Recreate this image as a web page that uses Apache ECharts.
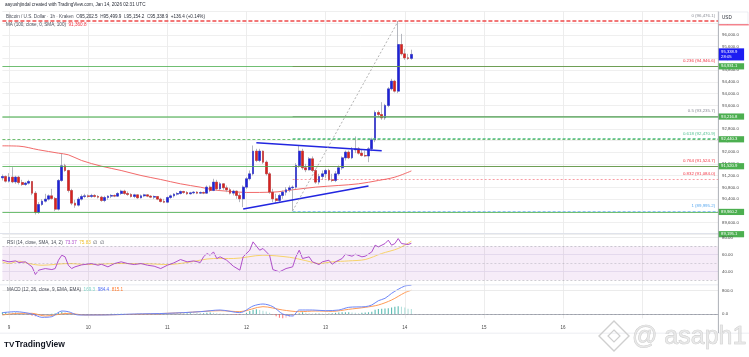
<!DOCTYPE html>
<html><head><meta charset="utf-8">
<script src="https://cdn.jsdelivr.net/npm/echarts@6/dist/echarts.min.js"></script>
<style>html,body{margin:0;padding:0;background:#fff}#c{width:749px;height:357px}</style>
</head><body><div id="c"></div>
<script>
// ---------- data ----------
const dayLabels = ['9','10','11','12','13','14','15','16'];
const opens = [91125,91170,91011,91148,90988,91148,90966,90897,90943,91000,
 90601,89941,90214,90328,90397,90510,90420,90055,91034,91534,
 91375,90692,90260,90192,90397,90488,90510,90488,90522,90488,
 90465,90351,90453,90499,90522,90499,90590,90670,90590,90556,
 90488,90544,90442,90510,90544,90499,90465,90488,90397,90317,
 90294,90453,90510,90567,90590,90658,90624,90579,90613,90636,
 90601,90624,90601,90807,90693,90978,90750,90921,90784,90716,
 90602,90670,90523,90409,90807,91092,91262,92036,91717,92036,
 91660,91262,90636,90409,90352,90523,90636,90716,90784,90807,
 91547,92036,91467,91399,91774,91376,90978,91171,91262,91376,
 91057,91035,91262,91467,91808,92002,91808,92081,92115,91967,
 91888,91870,92115,92423,93355,93287,93173,93595,94163,94425,
 94084,95676,95358,95221,95202.5];
const closes = [91170,91011,91148,90988,91148,90966,90897,90943,91000,90601,
 89941,90214,90328,90397,90510,90420,90055,91034,91534,91375,
 90692,90260,90192,90397,90488,90510,90488,90522,90488,90465,
 90351,90453,90499,90522,90499,90590,90670,90590,90556,90488,
 90544,90442,90510,90544,90499,90465,90488,90397,90317,90294,
 90453,90510,90567,90590,90658,90624,90579,90613,90636,90601,
 90624,90601,90807,90693,90978,90750,90921,90784,90716,90602,
 90670,90523,90409,90807,91092,91262,92036,91717,92036,91660,
 91262,90636,90409,90352,90523,90636,90716,90784,90807,91547,
 92036,91467,91399,91774,91376,90978,91171,91262,91376,91057,
 91035,91262,91467,91808,92002,91808,92081,92115,91967,91888,
 91870,92115,92423,93355,93287,93173,93595,94163,94425,94084,
 95676,95358,95221,95202.5,95338.9];
const highs = [91239,91205,91284,91489,91193,91193,91057,90988,91057,91011,
 90670,90294,90397,90579,90556,90749,90470,91079,91944,91603,
 91398,90749,90374,90465,90556,90579,90556,90579,90567,90533,
 90510,90510,90533,90567,90556,90636,90715,90715,90658,90601,
 90579,90556,90556,90579,90567,90533,90522,90499,90442,90408,
 90488,90556,90601,90636,90692,90681,90670,90647,90670,90670,
 90658,90658,90864,90864,91092,91057,90978,90943,90864,90784,
 90716,90693,90602,90864,91148,91376,92229,92115,92115,92058,
 91717,91319,90750,90580,90580,90693,90807,90864,90864,91626,
 92229,92115,91603,91831,91854,91433,91262,91376,91433,91433,
 91262,91353,91547,91854,92058,92058,92172,92536,92172,92081,
 92058,92172,92491,93424,93424,93708,93651,94220,94505,94470,
 96476.1,96040,95528,95358,95499.9];
const lows = [91034,90966,90966,90943,90920,90897,90852,90852,90897,90533,
 89873,89896,90169,90283,90351,90380,89987,90010,90988,91330,
 90624,90192,90101,90146,90351,90431,90442,90442,90453,90419,
 90306,90294,90374,90431,90465,90476,90544,90544,90510,90453,
 90431,90408,90419,90465,90465,90431,90397,90362,90283,90260,
 90260,90408,90453,90522,90556,90579,90544,90556,90567,90567,
 90579,90567,90580,90636,90670,90693,90693,90716,90636,90557,
 90523,90409,90295,90124,90750,91035,91205,91660,91660,91603,
 91205,90580,90295,90261,90295,90409,90523,90636,89995.2,90750,
 91467,91399,91319,91376,91319,90921,90898,91057,91126,91012,
 90978,90978,91205,91399,91717,91763,91763,91967,91922,91854,
 91831,91660,92036,92343,93196,93105,93105,93537,94106,94038,
 94015,95301,95153,95153,95154.2];
const maPts = [[0,92217],[5,92206],[11,92081],[17,91967],[20,91910],[24,91717],[30,91523],[36,91375],[42,91205],[48,91068],[54,90920],[60,90806],[64,90715],[68,90670],[74,90625],[82,90636],[88,90716],[95,90807],[102,90864],[108,90921],[114,91035],[119,91148],[124,91360.8]];
const rsiPts = [[0,53.5],[2,51.6],[4,52.7],[5,50.8],[7,51.6],[9,45.7],[10,36.7],[11,41.8],[13,43.7],[15,42.5],[16,43.7],[17,53.5],[18,59.4],[19,57.5],[20,47.6],[21,43.7],[22,45.7],[24,48],[27,49.6],[29,47.6],[30,48.8],[32,45.7],[34,49.6],[36,51.6],[38,49.6],[40,48.4],[42,49.6],[44,47.6],[46,46.5],[48,43.7],[50,47.6],[52,50.4],[54,54.3],[56,51.6],[58,52.7],[60,50.8],[61,57.5],[62,61.4],[63,59.4],[64,63.3],[65,55.5],[66,57.5],[68,53.5],[70,46.5],[72,41.8],[73,57.5],[75,65.3],[76,75.1],[78,65.3],[79,67.3],[81,59.4],[82,42.5],[84,39.8],[86,43.7],[88,45.7],[89,57.5],[90,65.3],[91,55.5],[93,57.5],[94,51.6],[96,48.4],[97,51.6],[99,53.5],[100,48.8],[101,51.6],[103,55.5],[104,60.6],[106,58.2],[107,60.6],[109,57.5],[110,58.2],[112,63.3],[113,71.2],[114,69.2],[116,73.1],[117,77.1],[118,71.2],[119,73.1],[120,79],[121,73.1],[123,72],[124,73.37]];
const rsiMaPts = [[0,51.6],[2,49.6],[5,52.4],[8,49.6],[12,47.6],[20,49.6],[26,48.4],[35,49.6],[45,49.2],[50,48.4],[56,50.8],[64,55.5],[70,55.5],[79,59.4],[87,57],[92,53],[96,49.6],[100,51.6],[105,52.7],[110,54.3],[115,61.4],[120,67.3],[124,75.83]];
const macdPts = [[0,46],[4,80],[9,0],[12,-114],[15,-92],[18,103],[20,80],[23,-34],[30,-34],[40,0],[50,23],[60,80],[66,137],[72,46],[76,274],[79,343],[82,252],[85,0],[88,-69],[90,137],[94,137],[98,114],[102,137],[105,229],[110,252],[112,309],[114,457],[116,537],[118,709],[120,846],[122,960],[124,984.4]];
const signalPts = [[0,-34],[5,23],[9,23],[13,-69],[20,23],[25,-34],[40,-11],[55,46],[66,114],[72,80],[79,252],[85,137],[90,80],[95,103],[100,91],[105,160],[110,229],[114,309],[118,480],[122,732],[124,815.1]];
const histVals = [60,70,60,50,50,40,
 20,0,-20,-60,-80,-60,-40,
 -20,-10,10,30,60,
 80,60,40,10,
 -20,-20,-10,-10,0,0,-5,-10,-10,
 -5,0,5,5,10,10,5,0,-5,0,5,5,0,-5,-10,-10,-15,-15,-10,0,
 10,15,20,20,20,25,25,20,20,20,
 30,40,50,40,30,20,
 10,0,-10,-20,-30,-30,
 0,40,100,150,160,140,110,90,
 40,-20,-80,-130,-150,-130,-100,-70,
 -20,30,60,40,30,20,20,
 20,15,10,20,30,40,50,60,60,
 60,50,40,30,40,50,60,80,
 150,170,180,190,200,220,250,270,250,220,180,169.3];
const greenLevels = [94931.1, 93216.8, 92440.3, 91520.9, 89960.2, 89195.1];
const fibRatios = ['0','0.236','0.5','0.618','0.764','0.832','1'];
const fibPrices = [96476.1, 94946.6, 93235.7, 92470.9, 91524.7, 91084.0, 89995.2];
const triUpper = [[77, 92324], [115, 92051]];
const triLower = [[73, 90061], [111, 90846]];
const fibLow = [88, 89995.2], fibHigh = [120, 96476.1];
const maLast = 91360.8, rsiLast = 73.37, rsiMaLast = 75.83;
const macdLast = 984.4, signalLast = 815.1, histLast = 169.3;
const countdown = '28:05';

// ---------- build ----------
const N = 218, FIRST_DAY = 2;
const P_MIN = 89200, P_MAX = 96800;
const F = 'Liberation Sans, Arial, sans-serif';
const CLEAR = 'rgba(0,0,0,0)';
const fmt = v => v.toLocaleString('en-US', {minimumFractionDigits:1, maximumFractionDigits:1});
const cats = Array.from({length:N}, (_, i) => String(i));
const sparse = pts => { const a = new Array(N).fill(null); pts.forEach(p => a[p[0]] = p[1]); return a; };
const isDay = i => i >= FIRST_DAY && (i - FIRST_DAY) % 24 === 0;

const UP = '#1f22d8', DN = '#d8221e', WICK = '#a2a6ae';
const wickData = opens.map((o, i) => [o, closes[i], lows[i], highs[i]]);
const bodyData = opens.map((o, i) => [o, closes[i], Math.min(o, closes[i]), Math.max(o, closes[i])]);
const histData = histVals.map((v, i) => {
  const p = i > 0 ? histVals[i-1] : 0;
  const c = v >= 0 ? (v >= p ? 'rgba(38,166,154,0.75)' : 'rgba(38,166,154,0.35)')
                   : (v <= p ? 'rgba(255,82,82,0.75)' : 'rgba(255,82,82,0.35)');
  return {value: v, itemStyle: {color: c}};
});

const fibColors = ['#8a8d96','#f23645','#8a8d96','#4fbf8f','#f23645','#f23645','#5aa9ef'];
const fibLine = [
  {color:'#ef4b4b', type:[4,2], width:1.5},
  {color:'#f23645', type:'solid', width:0.8},
  {color:'#9e9e9e', type:'solid', width:0.8},
  {color:'#4fbf8f', type:[3,2], width:0.8},
  {color:'#f23645', type:'solid', width:0.8},
  {color:'rgba(242,54,69,0.55)', type:[2,2], width:0.9},
  {color:'#7fbdf2', type:[3,2], width:0.9}
];

const priceMarks = [];
fibPrices.forEach((p, k) => {
  const lbl = {show:true, position:'insideEndTop', distance:3, formatter: fibRatios[k] + ' (' + fmt(p) + ')',
               color: fibColors[k], fontSize:4.4, fontFamily:F};
  priceMarks.push([{coord:[k === 0 ? 0 : fibLow[0], p], lineStyle: fibLine[k], label: lbl}, {coord:[N-1, p]}]);
});
greenLevels.forEach((p, k) => {
  const inside = p >= P_MIN;
  priceMarks.push({yAxis: Math.max(p, P_MIN),
    lineStyle:{color: !inside ? CLEAR : (k===1 ? 'rgba(76,175,80,0.55)' : 'rgba(76,175,80,0.8)'),
               width: k===1 ? 2 : 1.1, type: k===2 ? [3,2] : 'solid'},
    label:{show:true, position:'end', distance:0, formatter: fmt(p), backgroundColor:'#4caf50', color:'#fff',
           fontSize:4.2, fontFamily:F, padding:[1,3,0.6,3], width:20, lineHeight:4.6}});
});
priceMarks.push([{coord: triUpper[0], lineStyle:{color:'#2226e0', width:1.6, type:'solid'}, label:{show:false}}, {coord: triUpper[1]}]);
priceMarks.push([{coord: triLower[0], lineStyle:{color:'#2226e0', width:1.6, type:'solid'}, label:{show:false}}, {coord: triLower[1]}]);
priceMarks.push([{coord: fibLow, lineStyle:{color:'#a0a0a0', width:0.8, type:[2,2]}, label:{show:false}}, {coord: fibHigh}]);
priceMarks.push({yAxis: closes[closes.length-1], lineStyle:{color:CLEAR, width:1},
  label:{show:true, position:'end', distance:0, formatter: fmt(closes[closes.length-1]) + '\n' + countdown,
         backgroundColor:'#1c1cf2', color:'#fff', fontSize:4.2, fontFamily:F, padding:[1.5,3,1,3], width:20, lineHeight:4.8}});

const hLine = (v, color, type, label) => ({yAxis:v, lineStyle:{color, type, width:0.8},
  label: label ? {show:true, position:'end', distance:4, formatter:label, color:'#4a4a4a', fontSize:4.3, fontFamily:F} : {show:false}});

const xAxes = [0,1,2].map(g => ({
  type:'category', gridIndex:g, data:cats, boundaryGap:false,
  axisTick:{show:false},
  axisLine:{show:g===2, lineStyle:{color:'#b2b5be', width:1}},
  axisLabel:{show:g===2, interval:(i)=>isDay(i), formatter:(v,i)=> isDay(i) ? (dayLabels[(i-FIRST_DAY)/24] || '') : '',
             fontSize:4.5, color:'#4a4a4a', margin:6.5, fontFamily:F},
  splitLine:{show:true, interval:(i)=>isDay(i), lineStyle:{color:'#ebebeb', width:0.9}}
}));

const hiddenY = {show:false};
const option = {
  animation:false, backgroundColor:'#fff',
  textStyle:{fontFamily:F},
  grid:[
    {left:2.4, right:30.9, top:11.6, height:222.6},
    {left:2.4, right:30.9, top:233.45, height:51},
    {left:2.4, right:30.9, top:284.87, height:33.5}
  ],
  xAxis: xAxes,
  yAxis:[
    {type:'value', gridIndex:0, position:'right', min:P_MIN, max:P_MAX, interval:400,
     axisLine:{show:false}, axisTick:{show:false},
     axisLabel:{fontSize:4.3, color:'#4a4a4a', margin:4, showMinLabel:false, showMaxLabel:false, formatter:v=>fmt(v), fontFamily:F},
     splitLine:{lineStyle:{color:'#ededed', width:0.9}}},
    {type:'value', gridIndex:1, position:'right', min:25, max:85, axisLine:hiddenY, axisTick:hiddenY, axisLabel:hiddenY, splitLine:hiddenY},
    {type:'value', gridIndex:2, position:'right', min:-150, max:1000, axisLine:hiddenY, axisTick:hiddenY, axisLabel:hiddenY, splitLine:hiddenY}
  ],
  series:[
    {type:'candlestick', xAxisIndex:0, yAxisIndex:0, data:wickData, barWidth:2.3, silent:true, z:3,
     itemStyle:{color:WICK, color0:WICK, borderColor:WICK, borderColor0:WICK, borderWidth:0.8}},
    {type:'candlestick', xAxisIndex:0, yAxisIndex:0, data:bodyData, barWidth:2.3, silent:true, z:4,
     itemStyle:{color:UP, color0:DN, borderColor:UP, borderColor0:DN, borderWidth:0.4}},
    {type:'line', xAxisIndex:0, yAxisIndex:0, data:sparse(maPts), connectNulls:true, smooth:0.35, symbol:'none',
     lineStyle:{color:'#f26a6a', width:1}, z:2, clip:false,
     markLine:{silent:true, symbol:['none','none'], animation:false, data:priceMarks}},
    {type:'line', xAxisIndex:1, yAxisIndex:1, data:sparse(rsiMaPts), connectNulls:true, smooth:0.3, symbol:'none',
     lineStyle:{color:'#f7d36a', width:1}, z:3, clip:false,
     markArea:{silent:true, itemStyle:{color:'rgba(156,39,176,0.09)'}, data:[[{yAxis:30},{yAxis:70}]]},
     markLine:{silent:true, symbol:['none','none'], animation:false, data:[
       hLine(80,'#e6e6e6','solid','80.00'), hLine(60,'#e0d4ea','solid','60.00'), hLine(40,'#e0d4ea','solid','40.00'),
       hLine(70,'rgba(120,123,134,0.45)',[2,2]), hLine(50,'rgba(120,123,134,0.35)',[2,2]), hLine(30,'rgba(120,123,134,0.45)',[2,2])]}},
    {type:'line', xAxisIndex:1, yAxisIndex:1, data:sparse(rsiPts), connectNulls:true, symbol:'none',
     lineStyle:{color:'#b04fcb', width:1}, z:4},
    {type:'bar', xAxisIndex:2, yAxisIndex:2, data:histData, barWidth:1.1, z:2,
     markLine:{silent:true, symbol:['none','none'], animation:false, data:[
       hLine(800,'#e6e6e6','solid','800.0'), hLine(0,'rgba(120,123,134,0.45)',[2,2],'0.0')]}},
    {type:'line', xAxisIndex:2, yAxisIndex:2, data:sparse(signalPts), connectNulls:true, smooth:0.3, symbol:'none',
     lineStyle:{color:'#ff9a55', width:1}, z:3},
    {type:'line', xAxisIndex:2, yAxisIndex:2, data:sparse(macdPts), connectNulls:true, smooth:0.3, symbol:'none',
     lineStyle:{color:'#6d86f7', width:1}, z:4}
  ],
  graphic:[
    {type:'text', x:5, y:5, z:10, style:{text:'aayushjindal created with TradingView.com, Jan 14, 2026 02:31 UTC',
      fontSize:4.6, fontFamily:F, fill:'#2a2e39', verticalAlign:'middle'}},
    {type:'text', x:6, y:16.5, z:10, style:{
      text:'{g|Bitcoin / U.S. Dollar · 1h · Kraken}  {g|O}{v|' + fmt(opens[124]) + '}  {g|H}{v|' + fmt(highs[124]) + '}  {g|L}{v|' + fmt(lows[124]) + '}  {g|C}{v|' + fmt(closes[124]) + '}  {v|+136.4 (+0.14%)}',
      fontSize:4.6, fontFamily:F, verticalAlign:'middle',
      rich:{g:{fill:'#4a4e59', color:'#4a4e59', fontSize:4.6, fontFamily:F}, v:{fill:'#2a2e39', color:'#2a2e39', fontSize:4.6, fontFamily:F}}}},
    {type:'text', x:6, y:24.5, z:10, style:{
      text:'{g|MA (100, close, 0, SMA, 100)}  {r|' + fmt(maLast) + '}',
      fontSize:4.6, fontFamily:F, verticalAlign:'middle',
      rich:{g:{fill:'#4a4e59', color:'#4a4e59', fontSize:4.6, fontFamily:F}, r:{fill:'#f23645', color:'#f23645', fontSize:4.6, fontFamily:F}}}},
    {type:'text', x:7, y:242.5, z:10, style:{
      text:'{g|RSI (14, close, SMA, 14, 2)}  {p|' + rsiLast.toFixed(2) + '}  {y|' + rsiMaLast.toFixed(2) + '}  {g|∅  ∅}',
      fontSize:4.6, fontFamily:F, verticalAlign:'middle',
      rich:{g:{fill:'#4a4e59', color:'#4a4e59', fontSize:4.6, fontFamily:F}, p:{fill:'#b04fcb', color:'#b04fcb', fontSize:4.6, fontFamily:F}, y:{fill:'#f0c030', color:'#f0c030', fontSize:4.6, fontFamily:F}}}},
    {type:'text', x:7, y:290, z:10, style:{
      text:'{g|MACD (12, 26, close, 9, EMA, EMA)}  {t|' + fmt(histLast) + '}  {b|' + fmt(macdLast) + '}  {o|' + fmt(signalLast) + '}',
      fontSize:4.6, fontFamily:F, verticalAlign:'middle',
      rich:{g:{fill:'#4a4e59', color:'#4a4e59', fontSize:4.6, fontFamily:F}, t:{fill:'#7fd3c8', color:'#7fd3c8', fontSize:4.6, fontFamily:F}, b:{fill:'#4d6cf5', color:'#4d6cf5', fontSize:4.6, fontFamily:F}, o:{fill:'#ff7a2e', color:'#ff7a2e', fontSize:4.6, fontFamily:F}}}},
    {type:'rect', z:9, shape:{x:0, y:233.1, width:718, height:0.8}, style:{fill:'#e0e3eb'}},
    {type:'rect', z:9, shape:{x:0, y:284.5, width:718, height:0.8}, style:{fill:'#e0e3eb'}},
    {type:'rect', z:9, shape:{x:0, y:332.8, width:749, height:0.8}, style:{fill:'#e6e8ee'}},
    {type:'rect', z:9, shape:{x:717.9, y:11.6, width:0.9, height:321.5}, style:{fill:'#a3a6ae'}},
    {type:'rect', z:20, shape:{x:719, y:12, width:29, height:12}, style:{fill:'#fff', stroke:'#e0e3eb', lineWidth:0.6}},
    {type:'rect', z:20, shape:{x:718.8, y:24.4, width:30, height:0.9}, style:{fill:'#f23645'}},
    {type:'text', x:722, y:18, z:21, style:{text:'USD', fontSize:4.6, fontFamily:F, fill:'#2a2e39', verticalAlign:'middle'}},
    {type:'text', x:4, y:345, z:10, style:{text:'TV', fontSize:8, fontWeight:900, fontFamily:F, fill:'#131722', verticalAlign:'middle'}},
    {type:'text', x:15, y:345, z:10, style:{text:'TradingView', fontSize:8.5, fontWeight:'bold', fontFamily:F, fill:'#131722', verticalAlign:'middle'}},
    {type:'polygon', z:15, shape:{points:[[614,321],[629,336],[614,351],[599,336]]}, style:{fill:'none', stroke:'#cfcfcf', lineWidth:1.4}},
    {type:'polygon', z:15, shape:{points:[[614,330],[620,336],[614,342],[608,336]]}, style:{fill:'none', stroke:'#cfcfcf', lineWidth:1.2}},
    {type:'text', x:632, y:350, z:15, style:{text:'@ asaph1', fontSize:25, fontFamily:F, fill:'rgba(225,225,225,0.7)', stroke:'#c8c8c8', lineWidth:0.6, verticalAlign:'bottom'}}
  ]
};
const chart = echarts.init(document.getElementById('c'), null, {renderer:'canvas'});
chart.setOption(option);
</script></body></html>
